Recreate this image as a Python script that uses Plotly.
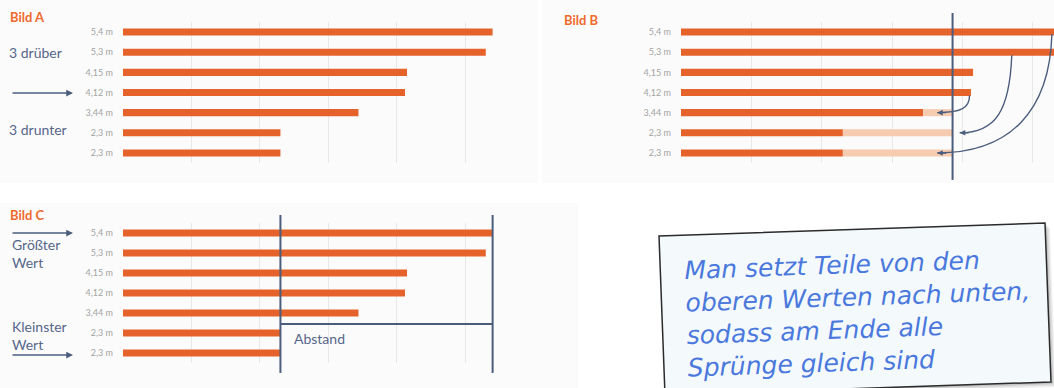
import plotly.graph_objects as go

# ---- data ----
values = [5.4, 5.3, 4.15, 4.12, 3.44, 2.3, 2.3]
labels = ["5,4 m", "5,3 m", "4,15 m", "4,12 m", "3,44 m", "2,3 m", "2,3 m"]
rows = list(range(len(values)))
target = sum(values) / len(values)          # level at which all "Sprünge" are equal
fill_rows = [r for r in rows if values[r] < target]
fill_base = [values[r] for r in fill_rows]
fill_len = [target - values[r] for r in fill_rows]
min_val, max_val = min(values), max(values)

note_lines = ["Man setzt Teile von den", "oberen Werten nach unten,",
              "sodass am Ende alle", "Sprünge gleich sind"]

# ---- styles ----
W, H = 1054, 388
ORANGE = "#e5622b"
LIGHT = "#f7cbb0"
SLATE = "#4b5d7d"
TITLE = "#ef6a2c"
GRID = "#e8e8e8"
FONT = "Lato"


def px(x):
    return x / W


def py(y):
    return 1 - y / H


fig = go.Figure()

# Bild A
fig.add_trace(go.Bar(x=values, y=rows, orientation="h", width=0.35,
                     marker=dict(color=ORANGE, line=dict(width=0)),
                     xaxis="x", yaxis="y", hoverinfo="skip"))
# Bild B
fig.add_trace(go.Bar(x=values, y=rows, orientation="h", width=0.35,
                     marker=dict(color=ORANGE, line=dict(width=0)),
                     xaxis="x2", yaxis="y2", hoverinfo="skip"))
fig.add_trace(go.Bar(x=fill_len, base=fill_base, y=fill_rows, orientation="h", width=0.35,
                     marker=dict(color=LIGHT, line=dict(width=0)),
                     xaxis="x2", yaxis="y2", hoverinfo="skip"))
# Bild C
fig.add_trace(go.Bar(x=values, y=rows, orientation="h", width=0.35,
                     marker=dict(color=ORANGE, line=dict(width=0)),
                     xaxis="x3", yaxis="y3", hoverinfo="skip"))

xcommon = dict(showgrid=True, gridcolor=GRID, gridwidth=1, tick0=0, dtick=1,
               showticklabels=False, zeroline=False, showline=False, ticks="",
               fixedrange=True)
ycommon = dict(tickmode="array", tickvals=rows, ticktext=labels, range=[6.5, -0.5],
               showgrid=False, zeroline=False, showline=False, ticks="",
               tickfont=dict(family=FONT, size=9, color="#a3a3a3"),
               ticklabelstandoff=9, fixedrange=True)

fig.update_layout(
    width=W, height=H,
    margin=dict(l=0, r=0, t=0, b=0),
    paper_bgcolor="white", plot_bgcolor="rgba(0,0,0,0)",
    showlegend=False, barmode="overlay",
    xaxis=dict(xcommon, domain=[px(123), px(520)], range=[0, 5.8], anchor="y"),
    yaxis=dict(ycommon, domain=[py(163), py(22)], anchor="x"),
    xaxis2=dict(xcommon, domain=[px(681), 1], range=[0, 5.3], anchor="y2"),
    yaxis2=dict(ycommon, domain=[py(163), py(22)], anchor="x2"),
    xaxis3=dict(xcommon, domain=[px(123), px(520)], range=[0, 5.8], anchor="y3"),
    yaxis3=dict(ycommon, domain=[py(363), py(223)], anchor="x3"),
)

shapes = []
# panel backgrounds
for (x0, y0, x1, y1) in [(0, 0, 538, 183), (542, 0, 1054, 183), (0, 203, 578, 388)]:
    shapes.append(dict(type="rect", xref="paper", yref="paper", layer="below",
                       x0=px(x0), x1=px(x1), y0=py(y1), y1=py(y0),
                       fillcolor="#fbfbfb", line=dict(width=0)))

# Bild B: target line and curved arrows
shapes.append(dict(type="line", xref="x2", yref="y2 domain", x0=target, x1=target,
                   y0=-0.12, y1=1.064, line=dict(color=SLATE, width=2)))
arrow_paths = [
    (values[3] - 0.02, 3.15, 4.10, 3.8, 3.97, 4.0, 3.64, 4.0),
    (4.70, 1.15, 4.67, 3.9, 4.47, 5.0, 3.96, 5.0),
    (5.27, 0.1, 5.24, 3.9, 4.68, 6.0, 3.64, 6.0),
]
for (sx, sy, c1x, c1y, c2x, c2y, ex, ey) in arrow_paths:
    shapes.append(dict(type="path", xref="x2", yref="y2",
                       path=f"M {sx},{sy} C {c1x},{c1y} {c2x},{c2y} {ex},{ey}",
                       line=dict(color=SLATE, width=1.4)))

# Bild C: min / max lines and Abstand bracket
for v in (min_val, max_val):
    shapes.append(dict(type="line", xref="x3", yref="y3 domain", x0=v, x1=v,
                       y0=-0.071, y1=1.057, line=dict(color=SLATE, width=2)))
shapes.append(dict(type="line", xref="x3", yref="y3", x0=min_val, x1=max_val,
                   y0=4.55, y1=4.55, line=dict(color=SLATE, width=2)))

# note card (shadow + card)
def quad(pts, dx=0, dy=0):
    p = [f"{px(x + dx)},{py(y + dy)}" for x, y in pts]
    return "M " + " L ".join(p) + " Z"

card = [(659, 236), (1045, 223), (1051, 382), (665, 395)]
for i, a in enumerate([0.06, 0.08, 0.10]):
    d = 5 - i * 1.5
    shapes.append(dict(type="path", xref="paper", yref="paper", path=quad(card, d, d),
                       fillcolor=f"rgba(0,0,0,{a})", line=dict(width=0)))
shapes.append(dict(type="path", xref="paper", yref="paper", path=quad(card),
                   fillcolor="#f4f9fc", line=dict(color="#2b2b2b", width=1.5)))

fig.update_layout(shapes=shapes)

ann = []
# titles
for txt, x, y in [("Bild A", 8, 17), ("Bild B", 562, 20), ("Bild C", 8, 215)]:
    ann.append(dict(text=f"<b>{txt}</b>", xref="paper", yref="paper", x=px(x), y=py(y),
                    xanchor="left", yanchor="middle", showarrow=False,
                    font=dict(family=FONT, size=13, color=TITLE)))
# side labels
for txt, x, y in [("3 drüber", 7, 53), ("3 drunter", 7, 130),
                  ("Größter<br>Wert", 10, 253), ("Kleinster<br>Wert", 10, 335)]:
    ann.append(dict(text=txt, xref="paper", yref="paper", x=px(x), y=py(y),
                    xanchor="left", yanchor="middle", align="left", showarrow=False,
                    font=dict(family=FONT, size=14, color="#56668a")))
# straight side arrows
for y in (93, 233, 355):
    ann.append(dict(text="", xref="paper", yref="paper", x=px(73), y=py(y),
                    ax=-62, ay=0, showarrow=True, arrowhead=2, arrowsize=0.9,
                    arrowwidth=1.5, arrowcolor=SLATE))
# arrowheads of the curved arrows (Bild B)
for (sx, sy, c1x, c1y, c2x, c2y, ex, ey) in arrow_paths:
    ann.append(dict(text="", xref="x2", yref="y2", x=ex, y=ey,
                    axref="x2", ayref="y2", ax=ex + 0.15, ay=ey,
                    showarrow=True, arrowhead=2, arrowsize=0.8, arrowwidth=1.4,
                    arrowcolor=SLATE))
# Abstand label
ann.append(dict(text="Abstand", xref="x3", yref="y3", x=min_val + 0.17, y=5.25,
                xanchor="left", yanchor="middle", showarrow=False,
                font=dict(family=FONT, size=14, color="#56668a")))
# handwritten note
ann.append(dict(text="<br>".join(note_lines), xref="paper", yref="paper",
                x=px(682), y=py(313), xanchor="left", yanchor="middle",
                align="left", showarrow=False, textangle=-2,
                font=dict(family="DejaVu Sans", size=25, color="#4a78dc",
                          style="italic")))
fig.update_layout(annotations=ann)

fig.write_html("out.html", config={"displayModeBar": False},
               post_script="document.body.style.margin='0';document.body.style.overflow='hidden';")
